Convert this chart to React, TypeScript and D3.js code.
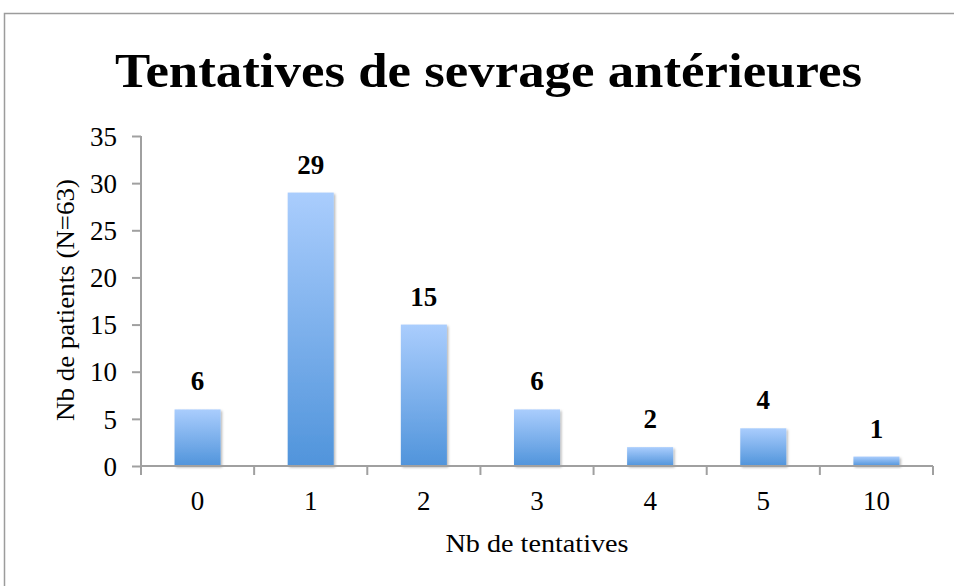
import { axisLeft, scaleBand, scaleLinear, select } from "d3";
import { useEffect, useRef } from "react";

const width = 954;
const height = 586;

const categories = ["0", "1", "2", "3", "4", "5", "10"];
const patients = [6, 29, 15, 6, 2, 4, 1];
const yTicks = [0, 5, 10, 15, 20, 25, 30, 35];

const title = "Tentatives de sevrage antérieures";
const xTitle = "Nb de tentatives";
const yTitle = "Nb de patients (N=63)";

const left = 141;
const right = 933;
const top = 136;
const bottom = 466;
const font = "'Liberation Serif', 'Times New Roman', serif";
const axisColor = "#a0a0a0";

function App() {
  const ref = useRef<SVGSVGElement>(null);

  useEffect(() => {
    document.body.style.margin = "0";
    document.body.style.overflow = "hidden";

    const svg = select(ref.current);
    svg.selectAll("*").remove();

    const x = scaleBand<string>()
      .domain(categories)
      .range([left, right])
      .paddingInner(0.593)
      .paddingOuter(0.2965);
    const y = scaleLinear().domain([0, 35]).range([bottom, top]);

    const defs = svg.append("defs");
    const grad = defs
      .append("linearGradient")
      .attr("id", "barGrad")
      .attr("x1", 0)
      .attr("y1", 0)
      .attr("x2", 0)
      .attr("y2", 1);
    grad.append("stop").attr("offset", "0%").attr("stop-color", "#aacdfd");
    grad.append("stop").attr("offset", "100%").attr("stop-color", "#5094db");

    const shadow = defs
      .append("filter")
      .attr("id", "shadow")
      .attr("x", "-20%")
      .attr("y", "-20%")
      .attr("width", "150%")
      .attr("height", "150%");
    shadow
      .append("feDropShadow")
      .attr("dx", 1.5)
      .attr("dy", 1.5)
      .attr("stdDeviation", 1.2)
      .attr("flood-color", "#000")
      .attr("flood-opacity", 0.28);

    // outer frame: only left and top edges are inside the picture
    svg
      .append("path")
      .attr("d", `M4.5,${height + 5}V13.5H${width + 5}`)
      .attr("fill", "none")
      .attr("stroke", "#9c9c9c")
      .attr("stroke-width", 1.5);

    svg
      .append("text")
      .attr("x", 488.5)
      .attr("y", 87)
      .attr("text-anchor", "middle")
      .attr("font-family", font)
      .attr("font-weight", "bold")
      .attr("font-size", 48)
      .attr("textLength", 747)
      .attr("lengthAdjust", "spacingAndGlyphs")
      .text(title);

    // bars
    svg
      .append("g")
      .selectAll("rect")
      .data(patients)
      .enter()
      .append("rect")
      .attr("x", (d, i) => x(categories[i]) as number)
      .attr("y", (d) => y(d))
      .attr("width", x.bandwidth())
      .attr("height", (d) => bottom - y(d))
      .attr("fill", "url(#barGrad)")
      .attr("filter", "url(#shadow)");

    // value labels
    svg
      .append("g")
      .selectAll("text")
      .data(patients)
      .enter()
      .append("text")
      .attr("x", (d, i) => (x(categories[i]) as number) + x.bandwidth() / 2)
      .attr("y", (d) => y(d) - 19)
      .attr("text-anchor", "middle")
      .attr("font-family", font)
      .attr("font-weight", "bold")
      .attr("font-size", 27)
      .text((d) => d);

    // y axis
    const yAxis = svg
      .append("g")
      .attr("transform", `translate(${left},0)`)
      .call(axisLeft(y).tickValues(yTicks).tickSize(9).tickPadding(15));
    yAxis.select(".domain").remove();
    yAxis
      .append("line")
      .attr("x1", 0)
      .attr("x2", 0)
      .attr("y1", top)
      .attr("y2", bottom)
      .attr("stroke", axisColor)
      .attr("stroke-width", 2);
    yAxis.selectAll(".tick line").attr("stroke", axisColor).attr("stroke-width", 2);
    yAxis
      .selectAll(".tick text")
      .attr("font-family", font)
      .attr("font-size", 27)
      .attr("fill", "#000")
      .attr("dy", "0.34em");

    // x axis
    const xAxis = svg.append("g");
    xAxis
      .append("line")
      .attr("x1", left)
      .attr("x2", right)
      .attr("y1", bottom)
      .attr("y2", bottom)
      .attr("stroke", axisColor)
      .attr("stroke-width", 2);
    xAxis
      .selectAll(".tickmark")
      .data(categories.concat([""]))
      .enter()
      .append("line")
      .attr("x1", (d, i) => x.range()[0] + i * x.step())
      .attr("x2", (d, i) => x.range()[0] + i * x.step())
      .attr("y1", bottom)
      .attr("y2", bottom + 9)
      .attr("stroke", axisColor)
      .attr("stroke-width", 2);
    xAxis
      .selectAll(".ticklabel")
      .data(categories)
      .enter()
      .append("text")
      .attr("x", (d) => (x(d) as number) + x.bandwidth() / 2)
      .attr("y", 510)
      .attr("text-anchor", "middle")
      .attr("font-family", font)
      .attr("font-size", 27)
      .text((d) => d);

    svg
      .append("text")
      .attr("x", (left + right) / 2)
      .attr("y", 552)
      .attr("text-anchor", "middle")
      .attr("font-family", font)
      .attr("font-size", 26)
      .attr("textLength", 183)
      .attr("lengthAdjust", "spacingAndGlyphs")
      .text(xTitle);

    svg
      .append("text")
      .attr("transform", `translate(74,${(top + bottom) / 2 - 1}) rotate(-90)`)
      .attr("text-anchor", "middle")
      .attr("font-family", font)
      .attr("font-size", 26)
      .attr("textLength", 242)
      .attr("lengthAdjust", "spacingAndGlyphs")
      .text(yTitle);
  }, []);

  return (
    <svg
      ref={ref}
      width={width}
      height={height}
      style={{ position: "absolute", left: 0, top: 0, background: "white", display: "block" }}
    ></svg>
  );
}

export default App;
